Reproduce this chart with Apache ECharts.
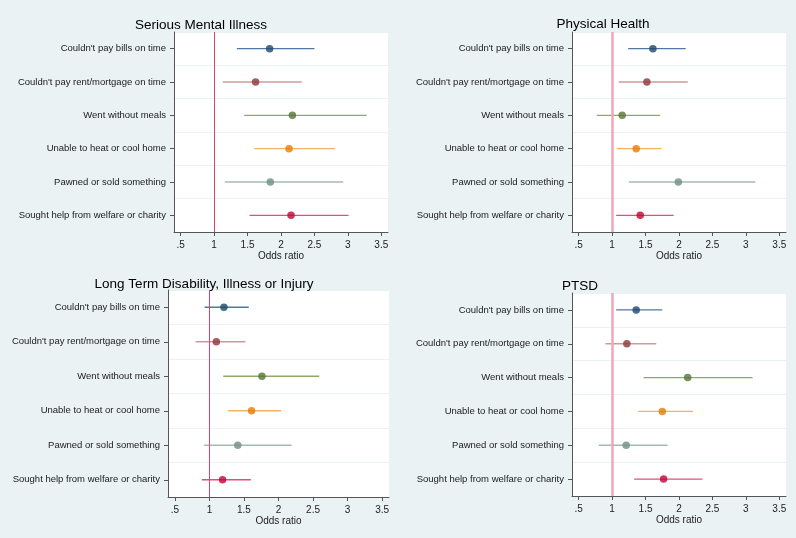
<!DOCTYPE html>
<html>
<head>
<meta charset="utf-8">
<script src="https://cdn.jsdelivr.net/npm/echarts@6/dist/echarts.min.js"></script>
<style>
html,body{margin:0;padding:0;background:#eaf2f3;}
#c{width:796px;height:538px;}
</style>
</head>
<body>
<div id="c"></div>
<script>
// ---- data ----
const categories = [
  "Couldn't pay bills on time",
  "Couldn't pay rent/mortgage on time",
  "Went without meals",
  "Unable to heat or cool home",
  "Pawned or sold something",
  "Sought help from welfare or charity"
];
const panelTitles = ["Serious Mental Illness", "Physical Health", "Long Term Disability, Illness or Injury", "PTSD"];
const xTickValues = [0.5, 1, 1.5, 2, 2.5, 3, 3.5];
const xTickLabels = [".5", "1", "1.5", "2", "2.5", "3", "3.5"];
const refValue = 1;

const smiOR = [1.83, 1.62, 2.17, 2.12, 1.84, 2.15];
const smiLo = [1.34, 1.13, 1.45, 1.60, 1.16, 1.53];
const smiHi = [2.50, 2.31, 3.28, 2.81, 2.93, 3.01];

const phOR = [1.61, 1.52, 1.15, 1.36, 1.99, 1.42];
const phLo = [1.24, 1.10, 0.77, 1.07, 1.25, 1.06];
const phHi = [2.10, 2.13, 1.72, 1.74, 3.14, 1.92];

const ltdOR = [1.21, 1.10, 1.76, 1.61, 1.41, 1.19];
const ltdLo = [0.93, 0.80, 1.20, 1.27, 0.92, 0.89];
const ltdHi = [1.57, 1.52, 2.59, 2.04, 2.19, 1.60];

const ptsdOR = [1.36, 1.22, 2.13, 1.75, 1.21, 1.77];
const ptsdLo = [1.06, 0.90, 1.47, 1.39, 0.80, 1.33];
const ptsdHi = [1.75, 1.66, 3.10, 2.21, 1.83, 2.35];

// ---- styling ----
const pointColors = ['#1a476f', '#90353b', '#55752f', '#e37e00', '#6e8e84', '#c10534'];
const lineColors  = ['#4f78a6', '#cf989e', '#8ea870', '#f4b266', '#a6bab4', '#e0507a'];
const FONT = "'Liberation Sans', Arial, sans-serif";

const panels = [
  {or: smiOR, lo: smiLo, hi: smiHi, grid: {left: 174, top: 32, width: 214, height: 200}, titleX: 196, titleY: 13, ref: {color: '#e0426c', width: 1}},
  {or: phOR, lo: phLo, hi: phHi, grid: {left: 572, top: 32, width: 214, height: 200}, titleX: 598, titleY: 12, ref: {color: '#f2a6ba', width: 2.5}},
  {or: ltdOR, lo: ltdLo, hi: ltdHi, grid: {left: 168, top: 290, width: 221, height: 207}, titleX: 199, titleY: 272, ref: {color: '#e0426c', width: 1}},
  {or: ptsdOR, lo: ptsdLo, hi: ptsdHi, grid: {left: 572, top: 293, width: 214, height: 203}, titleX: 575, titleY: 274, ref: {color: '#f2a6ba', width: 2.5}}
];

const option = {
  backgroundColor: '#eaf2f3',
  animation: false,
  textStyle: {fontFamily: FONT},
  title: [], grid: [], xAxis: [], yAxis: [], series: []
};

panels.forEach((p, i) => {
  option.title.push({
    text: panelTitles[i], left: p.titleX, top: p.titleY, textAlign: 'center',
    textStyle: {fontFamily: FONT, fontSize: 13.5, fontWeight: 'normal', color: '#000'}
  });
  option.grid.push(Object.assign({show: true, backgroundColor: '#ffffff', borderWidth: 0}, p.grid));
  option.xAxis.push({
    type: 'value', gridIndex: i, min: 0.4, max: 3.6,
    name: 'Odds ratio', nameLocation: 'middle', nameGap: 16,
    nameTextStyle: {fontFamily: FONT, fontSize: 10, color: '#222'},
    axisLine: {show: true, onZero: false, lineStyle: {color: '#555', width: 1}},
    axisTick: {show: true, length: 4, customValues: xTickValues, lineStyle: {color: '#555'}},
    axisLabel: {show: true, margin: 8, fontFamily: FONT, fontSize: 10, color: '#222',
      customValues: xTickValues,
      formatter: v => { const k = xTickValues.findIndex(t => Math.abs(t - v) < 1e-9); return k >= 0 ? xTickLabels[k] : ''; }},
    splitLine: {show: false}
  });
  option.yAxis.push({
    type: 'category', gridIndex: i, data: categories, inverse: true, boundaryGap: true,
    axisLine: {show: true, lineStyle: {color: '#555', width: 1}},
    axisTick: {show: true, alignWithLabel: true, length: 4, lineStyle: {color: '#555'}},
    axisLabel: {margin: 8, fontFamily: FONT, fontSize: 9.5, color: '#1a1a1a'},
    splitLine: {show: true, lineStyle: {color: '#eaf2f3', width: 1}}
  });
  // CI lines
  option.series.push({
    type: 'custom', xAxisIndex: i, yAxisIndex: i,
    data: categories.map((c, k) => [p.lo[k], p.hi[k], k]),
    renderItem: (params, api) => {
      const a = api.coord([api.value(0), api.value(2)]);
      const b = api.coord([api.value(1), api.value(2)]);
      return {type: 'line', shape: {x1: a[0], y1: a[1], x2: b[0], y2: b[1]},
        style: {stroke: lineColors[params.dataIndex], lineWidth: 1.3}};
    },
    z: 3
  });
  // reference line + points
  option.series.push({
    type: 'scatter', xAxisIndex: i, yAxisIndex: i, symbol: 'circle', symbolSize: 7.5,
    data: categories.map((c, k) => ({value: [p.or[k], c], itemStyle: {color: pointColors[k]}})),
    markLine: {silent: true, symbol: 'none', label: {show: false},
      lineStyle: {color: p.ref.color, width: p.ref.width, type: 'solid'},
      data: [{xAxis: refValue}]},
    z: 4
  });
});

const chart = echarts.init(document.getElementById('c'), null, {renderer: 'canvas'});
chart.setOption(option);
</script>
</body>
</html>
